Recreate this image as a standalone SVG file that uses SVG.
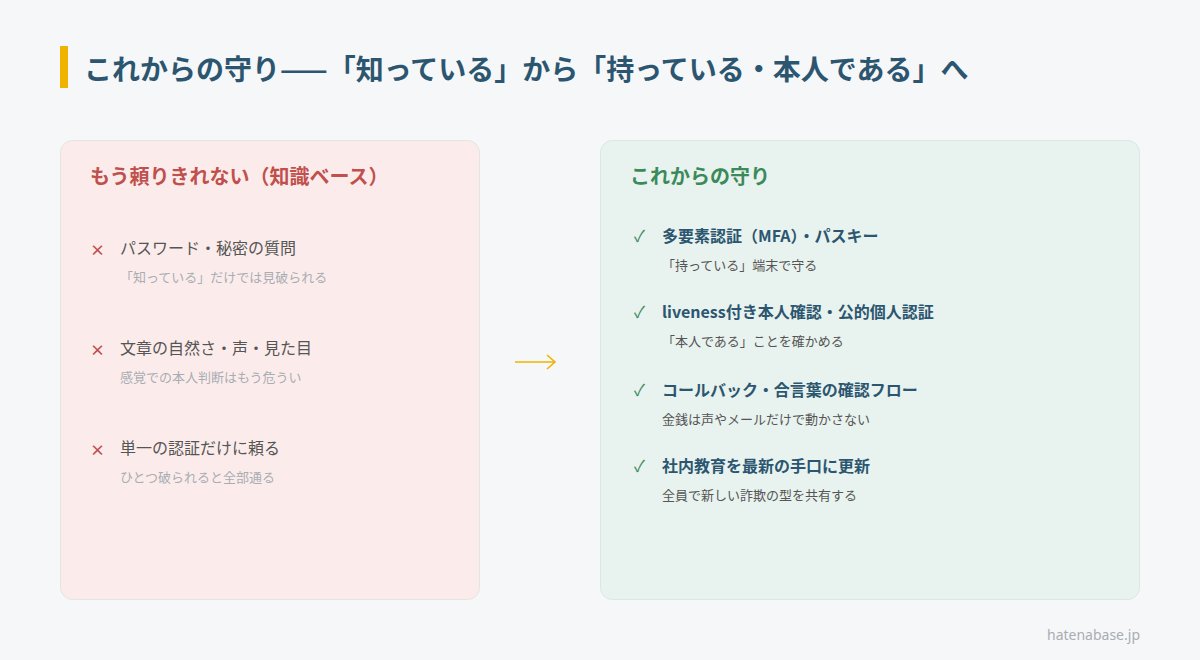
<svg xmlns="http://www.w3.org/2000/svg" width="1200" height="660" viewBox="0 0 1200 660">
<style>
text{font-family:"Noto Sans CJK JP","Noto Sans",sans-serif}
.t{font-size:28px;font-weight:700;fill:#2c5670}
.h{font-size:20px;font-weight:700}
.li{font-size:16px;fill:#555}
.ri{font-size:16px;font-weight:700;fill:#2c5670}
.ls{font-size:13px;fill:#a9adb3}
.rs{font-size:13px;fill:#555}
.x{font-size:15px;fill:#c0504d;font-weight:700}
.c{font-size:16px;fill:#3a8a5a}
</style>
<rect width="1200" height="660" fill="#f6f7f9"/>
<rect x="60" y="46" width="8" height="42" fill="#f0b400"/>
<text class="t" x="84" y="80">これからの守り——「知っている」から「持っている・本人である」へ</text>
<g id="left">
<rect x="60.500" y="140.500" width="419" height="459" rx="12" fill="#fbeceb" stroke="#e7e3e3"/>
<text class="h" x="90" y="184" fill="#c0504d">もう頼りきれない（知識ベース）</text>
<text class="x" x="90" y="256">×</text><text class="li" x="120" y="254">パスワード・秘密の質問</text><text class="ls" x="120" y="282">「知っている」だけでは見破られる</text>
<text class="x" x="90" y="356">×</text><text class="li" x="120" y="354">文章の自然さ・声・見た目</text><text class="ls" x="120" y="382">感覚での本人判断はもう危うい</text>
<text class="x" x="90" y="456">×</text><text class="li" x="120" y="454">単一の認証だけに頼る</text><text class="ls" x="120" y="482">ひとつ破られると全部通る</text>
</g>
<g id="connectors"><path d="M515 362H555M547 355L555 362L547 369" fill="none" stroke="#f0b400" stroke-width="1.6"/></g>
<g id="right">
<rect x="600.500" y="140.500" width="539" height="459" rx="12" fill="#e8f2ee" stroke="#dde6e2"/>
<text class="h" x="630" y="184" fill="#3a8a5a">これからの守り</text>
<text class="c" x="634" y="242">✓</text><text class="ri" x="662" y="242">多要素認証（MFA）・パスキー</text><text class="rs" x="662" y="270">「持っている」端末で守る</text>
<text class="c" x="634" y="318">✓</text><text class="ri" x="662" y="318">liveness付き本人確認・公的個人認証</text><text class="rs" x="662" y="346">「本人である」ことを確かめる</text>
<text class="c" x="634" y="396">✓</text><text class="ri" x="662" y="396">コールバック・合言葉の確認フロー</text><text class="rs" x="662" y="424">金銭は声やメールだけで動かさない</text>
<text class="c" x="634" y="472">✓</text><text class="ri" x="662" y="472">社内教育を最新の手口に更新</text><text class="rs" x="662" y="500">全員で新しい詐欺の型を共有する</text>
</g>
<text x="1140" y="640" text-anchor="end" font-size="14" fill="#a9adb3" style="font-family:'Noto Sans',sans-serif">hatenabase.jp</text>
</svg>
